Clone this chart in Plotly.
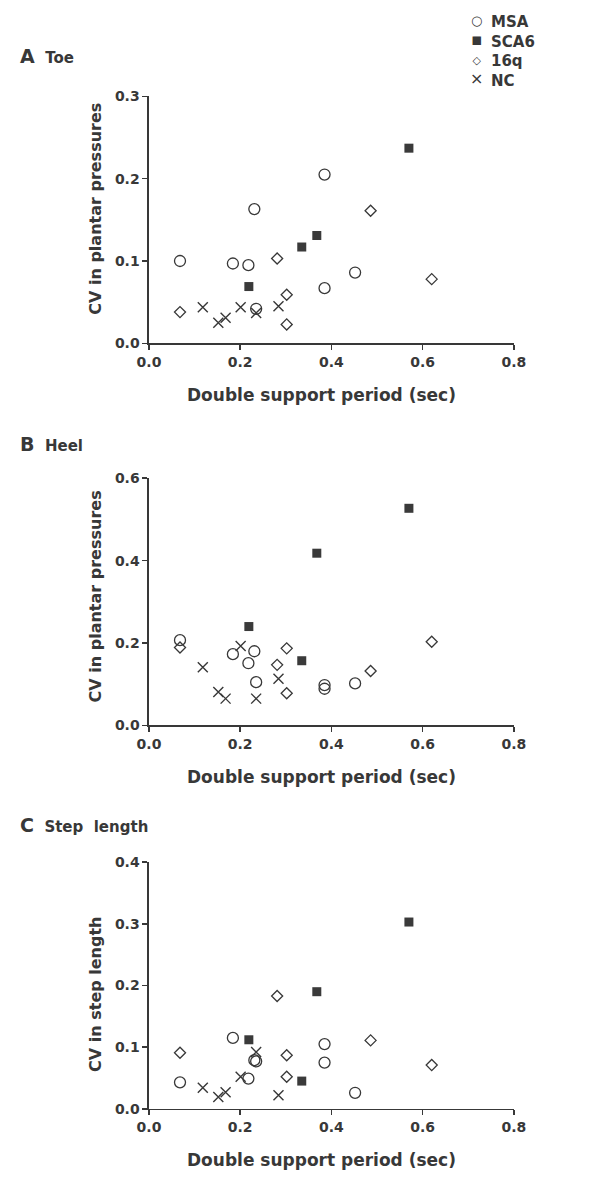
import plotly.graph_objects as go

# ---------------- data ----------------
groups = ["MSA", "SCA6", "16q", "NC"]

msa_x = [0.068, 0.184, 0.218, 0.231, 0.235, 0.385, 0.385, 0.452]
msa_toe = [0.100, 0.097, 0.095, 0.163, 0.042, 0.205, 0.067, 0.086]
msa_heel = [0.207, 0.173, 0.151, 0.180, 0.105, 0.098, 0.089, 0.102]
msa_step = [0.043, 0.115, 0.049, 0.079, 0.077, 0.105, 0.075, 0.026]

sca6_x = [0.219, 0.335, 0.368, 0.570]
sca6_toe = [0.069, 0.117, 0.131, 0.237]
sca6_heel = [0.240, 0.157, 0.418, 0.527]
sca6_step = [0.112, 0.045, 0.190, 0.303]

q16_x = [0.068, 0.281, 0.302, 0.302, 0.486, 0.620]
q16_toe = [0.038, 0.103, 0.059, 0.023, 0.161, 0.078]
q16_heel = [0.189, 0.147, 0.187, 0.078, 0.132, 0.203]
q16_step = [0.091, 0.183, 0.087, 0.052, 0.111, 0.071]

nc_x = [0.118, 0.152, 0.168, 0.201, 0.235, 0.284]
nc_toe = [0.044, 0.025, 0.031, 0.044, 0.037, 0.045]
nc_heel = [0.141, 0.081, 0.065, 0.193, 0.065, 0.113]
nc_step = [0.034, 0.019, 0.027, 0.052, 0.092, 0.022]

panel_titles = [("A", "Toe"), ("B", "Heel"), ("C", "Step  length")]
y_titles = ["CV in plantar pressures", "CV in plantar pressures", "CV in step length"]
y_ranges = [0.3, 0.6, 0.4]
y_dticks = [0.1, 0.2, 0.1]
x_title = "Double support period (sec)"

# ---------------- style ----------------
W, H = 600, 1177
INK = "#383838"
FONT = "DejaVu Sans, Arial, sans-serif"

def px_x(p):
    return p / W

def px_y(p):
    return 1 - p / H

x_dom = [px_x(142.7), px_x(522.7)]
panels_px = [(89.5, 340.0), (476.7, 727.3), (866.0, 1116.0)]
ytitle_centers = [204, 597, 1000]
label_centers = [49, 442, 828]

fig = go.Figure()

series = [
    ("MSA", msa_x, [msa_toe, msa_heel, msa_step],
     dict(symbol="circle-open", size=11, color=INK, line=dict(width=1.3, color=INK)),
     ("\u25CB", 13)),
    ("SCA6", sca6_x, [sca6_toe, sca6_heel, sca6_step],
     dict(symbol="square", size=9, color="#3a3a3a", line=dict(width=0)),
     ("\u25AA", 17)),
    ("16q", q16_x, [q16_toe, q16_heel, q16_step],
     dict(symbol="diamond-open", size=8.5, color=INK, line=dict(width=1.3, color=INK)),
     ("\u25C7", 11)),
    ("NC", nc_x, [nc_toe, nc_heel, nc_step],
     dict(symbol="x-thin-open", size=10, color=INK, line=dict(width=1.4, color=INK)),
     ("\u00D7", 16)),
]

for i in range(3):
    xa = "x" if i == 0 else f"x{i+1}"
    ya = "y" if i == 0 else f"y{i+1}"
    for name, xs, ys_list, mk, _g in series:
        fig.add_trace(go.Scatter(
            x=xs, y=ys_list[i], mode="markers", name=name,
            marker=mk, xaxis=xa, yaxis=ya,
            showlegend=False, legendgroup=name, cliponaxis=False,
        ))

layout = dict(
    width=W, height=H,
    margin=dict(l=0, r=0, t=0, b=0),
    paper_bgcolor="white", plot_bgcolor="white",
    font=dict(family=FONT, color=INK, size=13),
    showlegend=False,
)

annotations = []

# key (legend) as two text columns: symbols and group names
KEY_FONT = 15
key_top = 4
glyph_lines = "<br>".join(
    f"<span style='font-size:{gs}px'>{g}</span>" for (_n, _x, _y, _m, (g, gs)) in series
)
name_lines = "<br>".join(f"<b>{n}</b>" for n in groups)
annotations.append(dict(
    text=glyph_lines, x=px_x(484), y=px_y(key_top), xref="paper", yref="paper",
    xanchor="center", yanchor="top", align="center", showarrow=False, borderpad=0,
    font=dict(family=FONT, size=KEY_FONT, color=INK),
))
annotations.append(dict(
    text=name_lines, x=px_x(498), y=px_y(key_top), xref="paper", yref="paper",
    xanchor="left", yanchor="top", align="left", showarrow=False, borderpad=0,
    font=dict(family=FONT, size=KEY_FONT, color=INK),
))

for i, (top, bot) in enumerate(panels_px):
    xk = "xaxis" if i == 0 else f"xaxis{i+1}"
    yk = "yaxis" if i == 0 else f"yaxis{i+1}"
    ya_ref = "y" if i == 0 else f"y{i+1}"
    layout[xk] = dict(
        domain=x_dom, range=[0, 0.8], dtick=0.2, tick0=0, tickformat=".1f",
        showgrid=False, zeroline=False, showline=True, linecolor=INK, linewidth=1.5,
        ticks="outside", ticklen=5, tickwidth=1.5, tickcolor=INK,
        tickfont=dict(family=FONT, size=14, color=INK, weight="bold"),
        anchor=ya_ref, fixedrange=True,
    )
    layout[yk] = dict(
        domain=[px_y(bot), px_y(top)], range=[0, y_ranges[i]], dtick=y_dticks[i],
        tick0=0, tickformat=".1f",
        showgrid=False, zeroline=False, showline=True, linecolor=INK, linewidth=1.5,
        ticks="outside", ticklen=5, tickwidth=1.5, tickcolor=INK,
        tickfont=dict(family=FONT, size=14, color=INK, weight="bold"),
        anchor="x" if i == 0 else f"x{i+1}", fixedrange=True,
    )
    # x-axis title
    annotations.append(dict(
        text=x_title, x=px_x(322), y=px_y(bot + 52), xref="paper", yref="paper",
        xanchor="center", yanchor="middle", showarrow=False,
        font=dict(family=FONT, size=17, color=INK, weight="bold"),
    ))
    # y-axis title
    annotations.append(dict(
        text=y_titles[i], x=px_x(87), y=px_y(ytitle_centers[i]), xref="paper", yref="paper",
        xanchor="center", yanchor="middle", showarrow=False, textangle=-90,
        font=dict(family=FONT, size=16, color=INK, weight="bold"),
    ))
    # panel label
    letter, word = panel_titles[i]
    annotations.append(dict(
        text=f"<b><span style='font-size:19px'>{letter}</span>  {word}</b>",
        x=px_x(6), y=px_y(label_centers[i]), xref="paper", yref="paper",
        xanchor="left", yanchor="middle", showarrow=False,
        font=dict(family=FONT, size=15, color=INK),
    ))

layout["annotations"] = annotations
fig.update_layout(**layout)
fig.write_html(
    "out.html",
    config={"displayModeBar": False, "staticPlot": True},
    post_script="document.body.style.margin='0';document.body.style.overflow='hidden';",
)
